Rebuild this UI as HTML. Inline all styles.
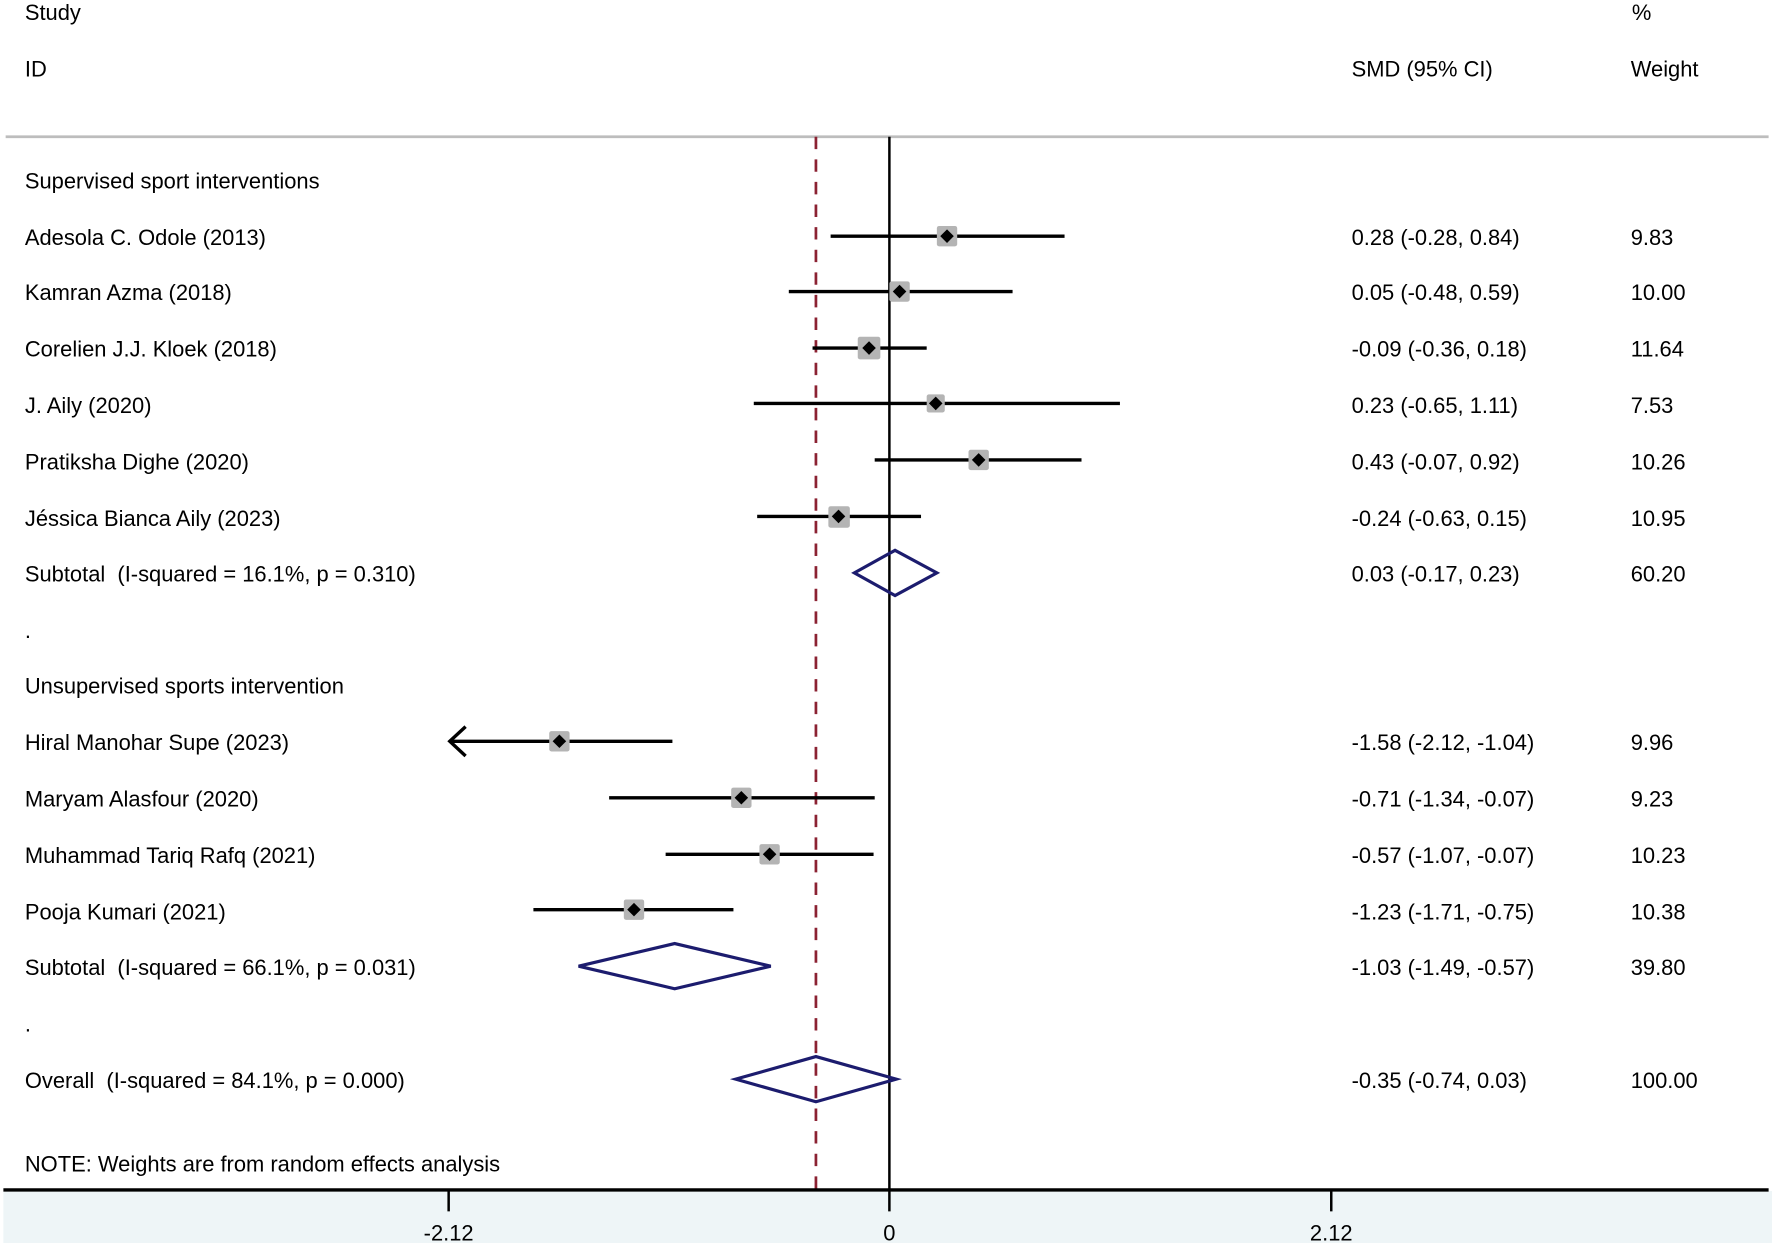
<!DOCTYPE html>
<html><head><meta charset="utf-8"><style>
html,body{margin:0;padding:0;background:#fff;}
svg{display:block;}
text{font-family:"Liberation Sans",Arial,sans-serif;font-size:19.4px;fill:#000;white-space:pre;}
</style></head><body>
<svg width="1772" height="1243" viewBox="0 0 1568 1100" preserveAspectRatio="none" xmlns="http://www.w3.org/2000/svg">
<rect x="0" y="0" width="1568" height="1100" fill="#fff"/>
<rect x="3" y="1054" width="1565" height="46" fill="#eef5f7"/>
<g dominant-baseline="central" transform="translate(0,1)">
<text x="22" y="10">Study</text>
<text x="22" y="60">ID</text>
<text x="1196" y="60">SMD (95% CI)</text>
<text x="1444" y="10">%</text>
<text x="1443" y="60">Weight</text>
</g>
<line x1="5" y1="121" x2="1565" y2="121" stroke="#bdbdbd" stroke-width="2.5"/>
<line x1="787" y1="121" x2="787" y2="1072" stroke="#000" stroke-width="2.2"/>
<line x1="722" y1="121" x2="722" y2="1053" stroke="#8b2232" stroke-width="2.4" stroke-dasharray="11,9"/>
<line x1="3" y1="1053" x2="1565" y2="1053" stroke="#000" stroke-width="3"/>
<g stroke="#000" stroke-width="2.2"><line x1="397" y1="1053" x2="397" y2="1072"/><line x1="1178" y1="1053" x2="1178" y2="1072"/></g>
<g text-anchor="middle" dominant-baseline="central"><text x="397" y="1091">-2.12</text><text x="787" y="1091">0</text><text x="1178" y="1091">2.12</text></g>
<g dominant-baseline="central" transform="translate(0,1)">
<text x="22" y="159">Supervised sport interventions</text>
<text x="22" y="209">Adesola C. Odole (2013)</text><text x="1196" y="209">0.28 (-0.28, 0.84)</text><text x="1443" y="209">9.83</text>
<text x="22" y="258">Kamran Azma (2018)</text><text x="1196" y="258">0.05 (-0.48, 0.59)</text><text x="1443" y="258">10.00</text>
<text x="22" y="308">Corelien J.J. Kloek (2018)</text><text x="1196" y="308">-0.09 (-0.36, 0.18)</text><text x="1443" y="308">11.64</text>
<text x="22" y="358">J. Aily (2020)</text><text x="1196" y="358">0.23 (-0.65, 1.11)</text><text x="1443" y="358">7.53</text>
<text x="22" y="408">Pratiksha Dighe (2020)</text><text x="1196" y="408">0.43 (-0.07, 0.92)</text><text x="1443" y="408">10.26</text>
<text x="22" y="458">Jéssica Bianca Aily (2023)</text><text x="1196" y="458">-0.24 (-0.63, 0.15)</text><text x="1443" y="458">10.95</text>
<text x="22" y="507">Subtotal  (I-squared = 16.1%, p = 0.310)</text><text x="1196" y="507">0.03 (-0.17, 0.23)</text><text x="1443" y="507">60.20</text>
<text x="22" y="557">.</text>
<text x="22" y="606">Unsupervised sports intervention</text>
<text x="22" y="656">Hiral Manohar Supe (2023)</text><text x="1196" y="656">-1.58 (-2.12, -1.04)</text><text x="1443" y="656">9.96</text>
<text x="22" y="706">Maryam Alasfour (2020)</text><text x="1196" y="706">-0.71 (-1.34, -0.07)</text><text x="1443" y="706">9.23</text>
<text x="22" y="756">Muhammad Tariq Rafq (2021)</text><text x="1196" y="756">-0.57 (-1.07, -0.07)</text><text x="1443" y="756">10.23</text>
<text x="22" y="806">Pooja Kumari (2021)</text><text x="1196" y="806">-1.23 (-1.71, -0.75)</text><text x="1443" y="806">10.38</text>
<text x="22" y="855">Subtotal  (I-squared = 66.1%, p = 0.031)</text><text x="1196" y="855">-1.03 (-1.49, -0.57)</text><text x="1443" y="855">39.80</text>
<text x="22" y="905">.</text>
<text x="22" y="955">Overall  (I-squared = 84.1%, p = 0.000)</text><text x="1196" y="955">-0.35 (-0.74, 0.03)</text><text x="1443" y="955">100.00</text>
<text x="22" y="1029">NOTE: Weights are from random effects analysis</text>
</g>
<g stroke="#000" stroke-width="3">
<line x1="735" y1="209" x2="942" y2="209"/>
<line x1="698" y1="258" x2="896" y2="258"/>
<line x1="719" y1="308" x2="820" y2="308"/>
<line x1="667" y1="357" x2="991" y2="357"/>
<line x1="774" y1="407" x2="957" y2="407"/>
<line x1="670" y1="457" x2="815" y2="457"/>
<line x1="398" y1="656" x2="595" y2="656"/>
<line x1="539" y1="706" x2="774" y2="706"/>
<line x1="589" y1="756" x2="773" y2="756"/>
<line x1="472" y1="805" x2="649" y2="805"/>
</g>
<path d="M412,643 L398,656 L412,669" fill="none" stroke="#000" stroke-width="3"/>
<g fill="#b4b4b4">
<rect x="829" y="200" width="18" height="18" rx="2"/>
<rect x="787" y="249" width="18" height="18" rx="2"/>
<rect x="759" y="298" width="20" height="20" rx="2"/>
<rect x="820" y="349" width="16" height="16" rx="2"/>
<rect x="857" y="398" width="18" height="18" rx="2"/>
<rect x="733" y="448" width="19" height="19" rx="2"/>
<rect x="486" y="647" width="18" height="18" rx="2"/>
<rect x="647" y="697" width="18" height="18" rx="2"/>
<rect x="672" y="747" width="18" height="18" rx="2"/>
<rect x="552" y="796" width="18" height="18" rx="2"/>
</g>
<g fill="#000">
<path d="M838,203 l6,6 -6,6 -6,-6z"/>
<path d="M796,252 l6,6 -6,6 -6,-6z"/>
<path d="M769,302 l6,6 -6,6 -6,-6z"/>
<path d="M828,351 l6,6 -6,6 -6,-6z"/>
<path d="M866,401 l6,6 -6,6 -6,-6z"/>
<path d="M742,451 l6,6 -6,6 -6,-6z"/>
<path d="M495,650 l6,6 -6,6 -6,-6z"/>
<path d="M656,700 l6,6 -6,6 -6,-6z"/>
<path d="M681,750 l6,6 -6,6 -6,-6z"/>
<path d="M561,799 l6,6 -6,6 -6,-6z"/>
</g>
<g fill="none" stroke="#1c1c6e" stroke-width="2.8">
<path d="M756,507 L792,487 L829,507 L792,527 Z"/>
<path d="M512,855 L597,835 L682,855 L597,875 Z"/>
<path d="M651,955 L722,935 L793,955 L722,975 Z"/>
</g>
</svg>
</body></html>
